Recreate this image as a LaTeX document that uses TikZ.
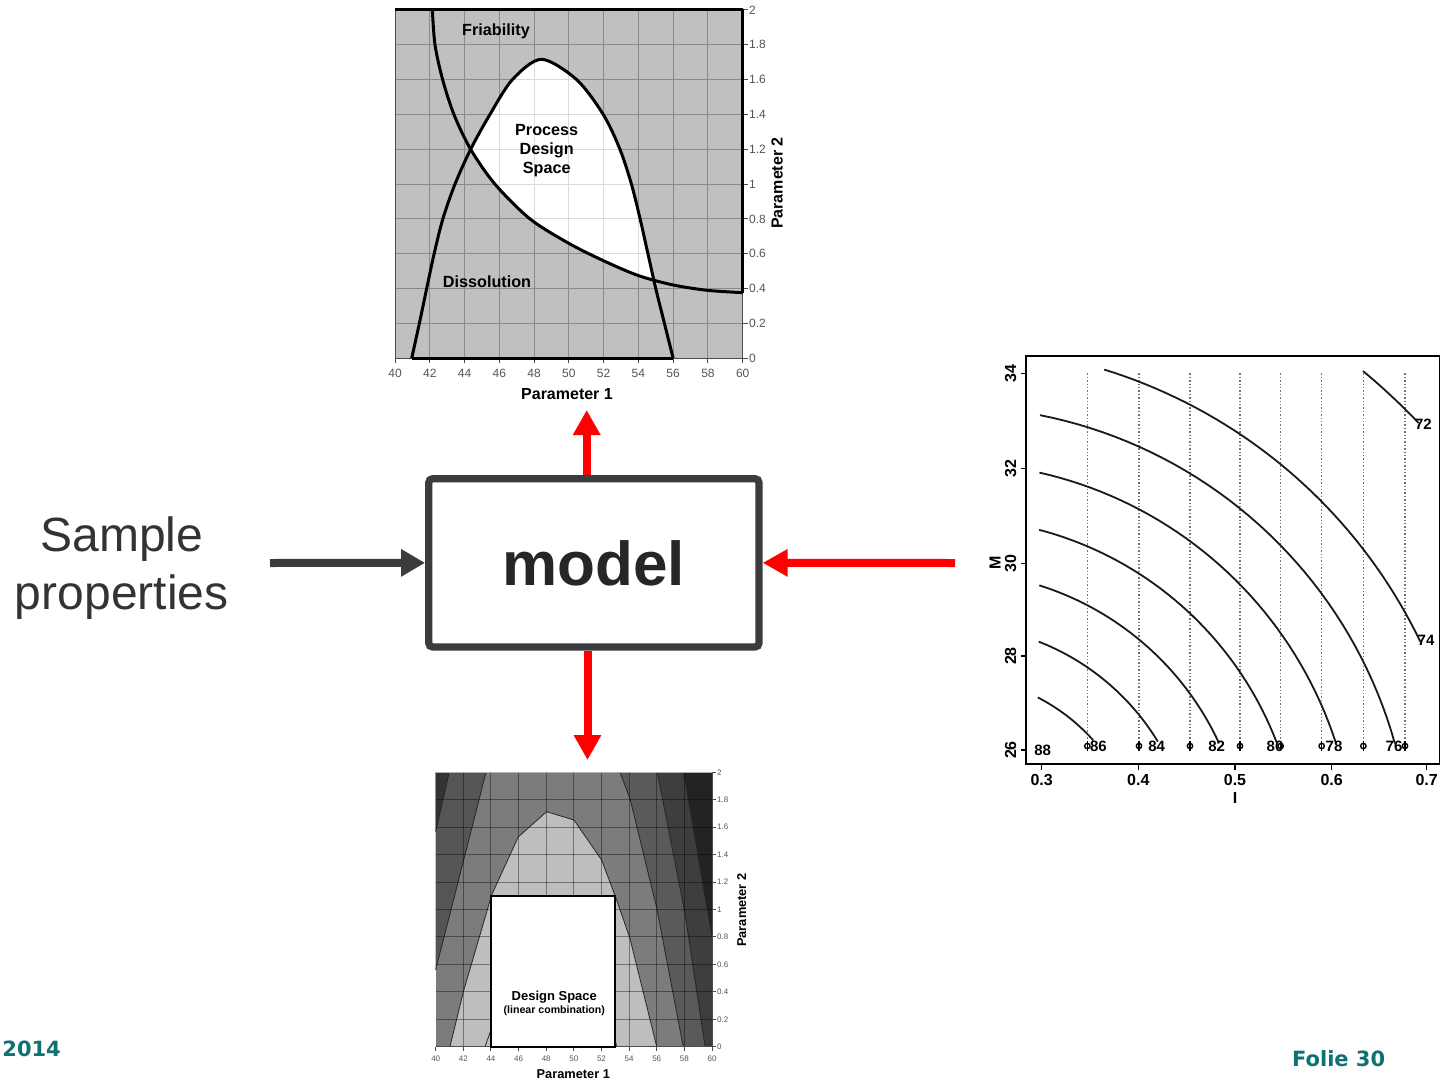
\documentclass[tikz,border=0pt]{standalone}
\usepackage{fontspec}
\setmainfont{Liberation Sans}
\newfontfamily\footfont{DejaVu Sans}
\usetikzlibrary{arrows.meta}
\definecolor{boxgray}{HTML}{3C3C3C}
\definecolor{txtgray}{HTML}{333333}
\definecolor{modeltxt}{HTML}{262626}
\definecolor{footteal}{HTML}{0E7272}
\definecolor{plotbg}{HTML}{C0C0C0}
\definecolor{griddark}{HTML}{8A8A8A}
\definecolor{gridlight}{HTML}{DADADA}
\definecolor{ticktxt}{HTML}{555555}
\definecolor{bmed}{HTML}{7C7C7C}
\definecolor{bdark}{HTML}{555555}
\definecolor{bdarkest}{HTML}{333333}
\definecolor{blight}{HTML}{BEBEBE}
\definecolor{rdark}{HTML}{5A5A5A}
\definecolor{rdarker}{HTML}{3E3E3E}
\definecolor{rdarkest}{HTML}{232323}
\newcommand\setfs[2]{\fontsize{#1}{#2}\selectfont}
\tikzset{
  curve/.style={line width=1.5pt, black, line join=round},
  gridtop/.style={griddark, line width=0.5pt},
  gridwhite/.style={gridlight, line width=0.5pt},
  axisline/.style={black!70, line width=0.5pt},
  ticklbl/.style={text=ticktxt, font=\setfs{6pt}{7pt}, inner sep=0pt},
  smalltick/.style={text=ticktxt, font=\setfs{4pt}{5pt}, inner sep=0pt},
  plotlbl/.style={font=\bfseries\setfs{8.1pt}{9.6pt}, inner sep=0pt, align=center},
  axlbl/.style={font=\bfseries\setfs{8pt}{9pt}, inner sep=0pt},
  baxlbl/.style={font=\bfseries\setfs{6.4pt}{7pt}, inner sep=0pt},
  bandline/.style={black!85, line width=0.4pt},
  bgrid/.style={black, opacity=0.4, line width=0.5pt},
  scanlbl/.style={font=\bfseries\setfs{7.5pt}{8pt}, inner sep=0pt},
  scantick/.style={font=\bfseries\setfs{8pt}{9pt}, inner sep=0pt},
  contour/.style={black!90, line width=0.9pt},
  dotline/.style={black!55, densely dotted, line width=0.7pt},
  modelbox/.style={draw=boxgray, line width=3.65pt, rounded corners=2pt, fill=white,
    minimum width=165.15pt, minimum height=84.15pt, inner sep=0pt,
    text=modeltxt, font=\bfseries\setfs{31pt}{31pt}},
  redarrow/.style={draw=red, line width=4pt, -{Triangle[length=12.5pt,width=13pt]}},
  darkarrow/.style={draw=boxgray, line width=4pt, -{Triangle[length=12pt,width=13pt]}},
  foot/.style={text=footteal, font=\footfont\bfseries\setfs{10.5pt}{12pt}, inner sep=0pt, anchor=base west}
}
\begin{document}
\begin{tikzpicture}[x=0.5pt,y=-0.5pt]
\useasboundingbox (0,0) rectangle (1440,1081);
\fill[white] (0,0) rectangle (1440,1081);

% ================= top plot =================
\begin{scope}[shift={(395,358.3)}, xscale=17.385, yscale=-174.15, shift={(-40,0)}]
  \fill[plotbg] (40,0) rectangle (60,2);
  \foreach \x in {42,44,...,58} \draw[gridtop] (\x,0) -- (\x,2);
  \foreach \y in {0.2,0.4,0.6,0.8,1,1.2,1.4,1.6,1.8} \draw[gridtop] (40,\y) -- (60,\y);
  \begin{scope}
    \clip plot[smooth] coordinates {(40.96,0) (41.4,0.2) (41.82,0.4) (42.25,0.6) (42.75,0.8) (43.45,1.0) (44.35,1.2) (45.46,1.4) (46.75,1.6) (48.42,1.717) (50.45,1.6) (51.98,1.4) (52.94,1.2) (53.6,1.0) (54.1,0.8) (54.55,0.6) (55.0,0.4) (55.5,0.2) (56,0)} -- cycle;
    \fill[white] plot[smooth] coordinates {(42.15,2) (42.3,1.8) (42.74,1.6) (43.39,1.4) (44.35,1.2) (45.75,1.0) (47.77,0.8) (50,0.66) (52,0.56) (54,0.475) (56,0.421) (58,0.39) (60,0.377)} -- (60,2) -- cycle;
    \clip plot[smooth] coordinates {(42.15,2) (42.3,1.8) (42.74,1.6) (43.39,1.4) (44.35,1.2) (45.75,1.0) (47.77,0.8) (50,0.66) (52,0.56) (54,0.475) (56,0.421) (58,0.39) (60,0.377)} -- (60,2) -- cycle;
    \foreach \x in {42,44,...,58} \draw[gridwhite] (\x,0) -- (\x,2);
    \foreach \y in {0.2,0.4,0.6,0.8,1,1.2,1.4,1.6,1.8} \draw[gridwhite] (40,\y) -- (60,\y);
  \end{scope}
  \draw[axisline] (40,2) -- (40,0) -- (60,0) -- (60,2);
  \foreach \x in {40,42,...,60} \draw[axisline] (\x,0) -- (\x,-0.025);
  \foreach \y in {0,0.2,0.4,0.6,0.8,1,1.2,1.4,1.6,1.8,2} \draw[axisline] (60,\y) -- (60.3,\y);
  \draw[curve] plot[smooth] coordinates {(40.96,0) (41.4,0.2) (41.82,0.4) (42.25,0.6) (42.75,0.8) (43.45,1.0) (44.35,1.2) (45.46,1.4) (46.75,1.6) (48.42,1.717) (50.45,1.6) (51.98,1.4) (52.94,1.2) (53.6,1.0) (54.1,0.8) (54.55,0.6) (55.0,0.4) (55.5,0.2) (56,0)};
  \draw[curve] plot[smooth] coordinates {(42.15,2) (42.3,1.8) (42.74,1.6) (43.39,1.4) (44.35,1.2) (45.75,1.0) (47.77,0.8) (50,0.66) (52,0.56) (54,0.475) (56,0.421) (58,0.39) (60,0.377)};
  \draw[curve] (40,2) -- (60,2) -- (60,0.377);
  \draw[curve] (40.96,0) -- (56,0);
  \foreach \x [count=\i] in {40,42,...,60} \node[ticklbl] (tx\i) at (\x,-0.087) {\x};
  \foreach \y/\t [count=\i] in {0/0,0.2/0.2,0.4/0.4,0.6/0.6,0.8/0.8,1/1,1.2/1.2,1.4/1.4,1.6/1.6,1.8/1.8,2/2}
    \node[ticklbl, anchor=west] (ty\i) at (60.35,\y) {\t};
\end{scope}
\node[plotlbl] (fri) at (496,31.7) {Friability};
\node[plotlbl] (pds) at (546.7,150.5) {Process\\Design\\Space};
\node[plotlbl] (dis) at (487,281.7) {Dissolution};
\node[axlbl] (p1t) at (567,394) {Parameter 1};
\node[axlbl, rotate=90] (p2t) at (777,183) {Parameter 2};

% ================= bottom plot =================
\begin{scope}[shift={(435.7,1046.7)}, xscale=13.815, yscale=-137.2, shift={(-40,0)}]
  \fill[bmed] (40,0) rectangle (60,2);
  \fill[bdark] (40,0.56) -- (43.64,2) -- (40,2) -- cycle;
  \fill[bdarkest] (40,1.567) -- (40.98,2) -- (40,2) -- cycle;
  \fill[blight] (41.03,0) -- (42.0,0.40) -- (44.05,1.106) -- (45.98,1.53) -- (48.03,1.713) -- (50.01,1.652) -- (52.01,1.361) -- (53.1,1.069) -- (54.06,0.79) -- (56.0,0) -- cycle;
  \fill[rdark] (53.34,2) -- (54.06,1.81) -- (56,1.01) -- (57.92,0) -- (60,0) -- (60,2) -- cycle;
  \fill[rdarker] (56.04,2) -- (58.05,0.97) -- (59.5,0) -- (60,0) -- (60,2) -- cycle;
  \fill[rdarkest] (57.95,2) -- (60,0.8) -- (60,2) -- cycle;
  \draw[bandline] (40,0.56) -- (43.64,2);
  \draw[bandline] (40,1.567) -- (40.98,2);
  \draw[bandline] (41.03,0) -- (42.0,0.40) -- (44.05,1.106) -- (45.98,1.53) -- (48.03,1.713) -- (50.01,1.652) -- (52.01,1.361) -- (53.1,1.069) -- (54.06,0.79) -- (56.0,0);
  \draw[bandline] (53.34,2) -- (54.06,1.81) -- (56,1.01) -- (57.92,0);
  \draw[bandline] (56.04,2) -- (58.05,0.97) -- (59.5,0);
  \draw[bandline] (57.95,2) -- (60,0.8);
  \draw[bandline] (43.57,0) -- (44.1,0.15);
  \draw[bandline] (53.1,0) -- (52.9,0.1);
  \foreach \x in {42,44,...,58} \draw[bgrid] (\x,0) -- (\x,2);
  \foreach \y in {0.2,0.4,0.6,0.8,1,1.2,1.4,1.6,1.8} \draw[bgrid] (40,\y) -- (60,\y);
  \draw[black!30, line width=0.4pt] (40,2) -- (60,2);
  \draw[axisline] (40,0) -- (60,0) -- (60,2);
  \foreach \x in {40,42,...,60} \draw[axisline] (\x,0) -- (\x,-0.03);
  \foreach \y in {0,0.2,0.4,0.6,0.8,1,1.2,1.4,1.6,1.8,2} \draw[axisline] (60,\y) -- (60.3,\y);
  \draw[black, line width=1pt, fill=white] (44,0) rectangle (53,1.1);
  \foreach \x [count=\i] in {40,42,...,60} \node[smalltick] (bx\i) at (\x,-0.085) {\x};
  \foreach \y/\t [count=\i] in {0/0,0.2/0.2,0.4/0.4,0.6/0.6,0.8/0.8,1/1,1.2/1.2,1.4/1.4,1.6/1.6,1.8/1.8,2/2}
    \node[smalltick, anchor=west] (by\i) at (60.35,\y) {\t};
\end{scope}
\node[font=\bfseries\setfs{6.5pt}{7pt}, inner sep=0pt] (ds) at (554.3,996.7) {Design Space};
\node[font=\bfseries\setfs{5.3pt}{6pt}, inner sep=0pt] (lc) at (554.3,1010.7) {(linear combination)};
\node[baxlbl] (p1b) at (573.3,1074) {Parameter 1};
\node[baxlbl, rotate=90] (p2b) at (741.7,910) {Parameter 2};

% ================= right scanned plot =================
\begin{scope}[shift={(990,350)}, scale=0.33333]
  \draw[black, line width=1pt] (108,18) rectangle (1350,1243);
  \foreach \x/\t [count=\i] in {155/0.3,445/0.4,735/0.5,1025/0.6,1310/0.7} {
    \draw[black, line width=0.8pt] (\x,1243) -- (\x,1260);
    \node[scantick] (sx\i) at (\x,1290) {\t};
  }
  \foreach \y/\t [count=\i] in {70/34,355/32,640/30,918/28,1200/26} {
    \draw[black, line width=0.8pt] (93,\y) -- (108,\y);
    \node[scantick, rotate=90] (sy\i) at (62,\y) {\t};
  }
  \node[scantick] (sxl) at (735,1345) {I};
  \node[scantick, rotate=90] (syl) at (15,640) {M};
  \foreach \x in {292,447,600,750,872,995,1120,1245} {
    \draw[dotline] (\x,70) -- (\x,1180);
    \draw[black, line width=0.7pt] (\x,1188) circle (8);
    \draw[black, line width=0.7pt] (\x,1174) -- (\x,1202);
  }
  \foreach \a/\b/\r in {-50.29/-43.54/1938, -72.84/-25.74/1565, -78.80/-15.66/1385, -77.30/-18.03/1216,
                         -75.28/-21.10/1049, -72.52/-25.08/889, -68.67/-31.35/729, -62.83/-41.75/575}
    \draw[contour] plot[domain=\a:\b, samples=40, variable=\t] ({-119+\r*cos(\t)}, {1554+\r*sin(\t)});
  \node[scanlbl] (c72) at (1300,222) {72};
  \node[scanlbl] (c74) at (1308,870) {74};
  \node[scanlbl] (c76) at (1212,1188) {76};
  \node[scanlbl] (c78) at (1032,1188) {78};
  \node[scanlbl] (c80) at (855,1188) {80};
  \node[scanlbl] (c82) at (680,1188) {82};
  \node[scanlbl] (c84) at (500,1188) {84};
  \node[scanlbl] (c86) at (325,1188) {86};
  \node[scanlbl] (c88) at (158,1200) {88};
\end{scope}

% ================= centre =================
\node[modelbox] (model) at (593.85,562.85) {model};
\node[text=txtgray, font=\setfs{24pt}{29pt}, align=center, inner sep=0pt] (sp) at (121.7,568.5) {Sample\\properties};
\coordinate (inL) at (270,563);
\coordinate (topend) at (586.7,410);
\coordinate (rstart) at (955,563);
\coordinate (botend) at (587.5,760);
\draw[darkarrow] (inL) -- (model.west);
\draw[redarrow] (rstart) -- (model.east);
\draw[redarrow] (model.north -| topend) -- (topend);
\draw[redarrow] (model.south -| botend) -- (botend);

% ================= footer =================
\node[foot] (year) at (2,1056.7) {2014};
\node[foot] (folie) at (1291.7,1066.7) {Folie 30};
\end{tikzpicture}
\end{document}
